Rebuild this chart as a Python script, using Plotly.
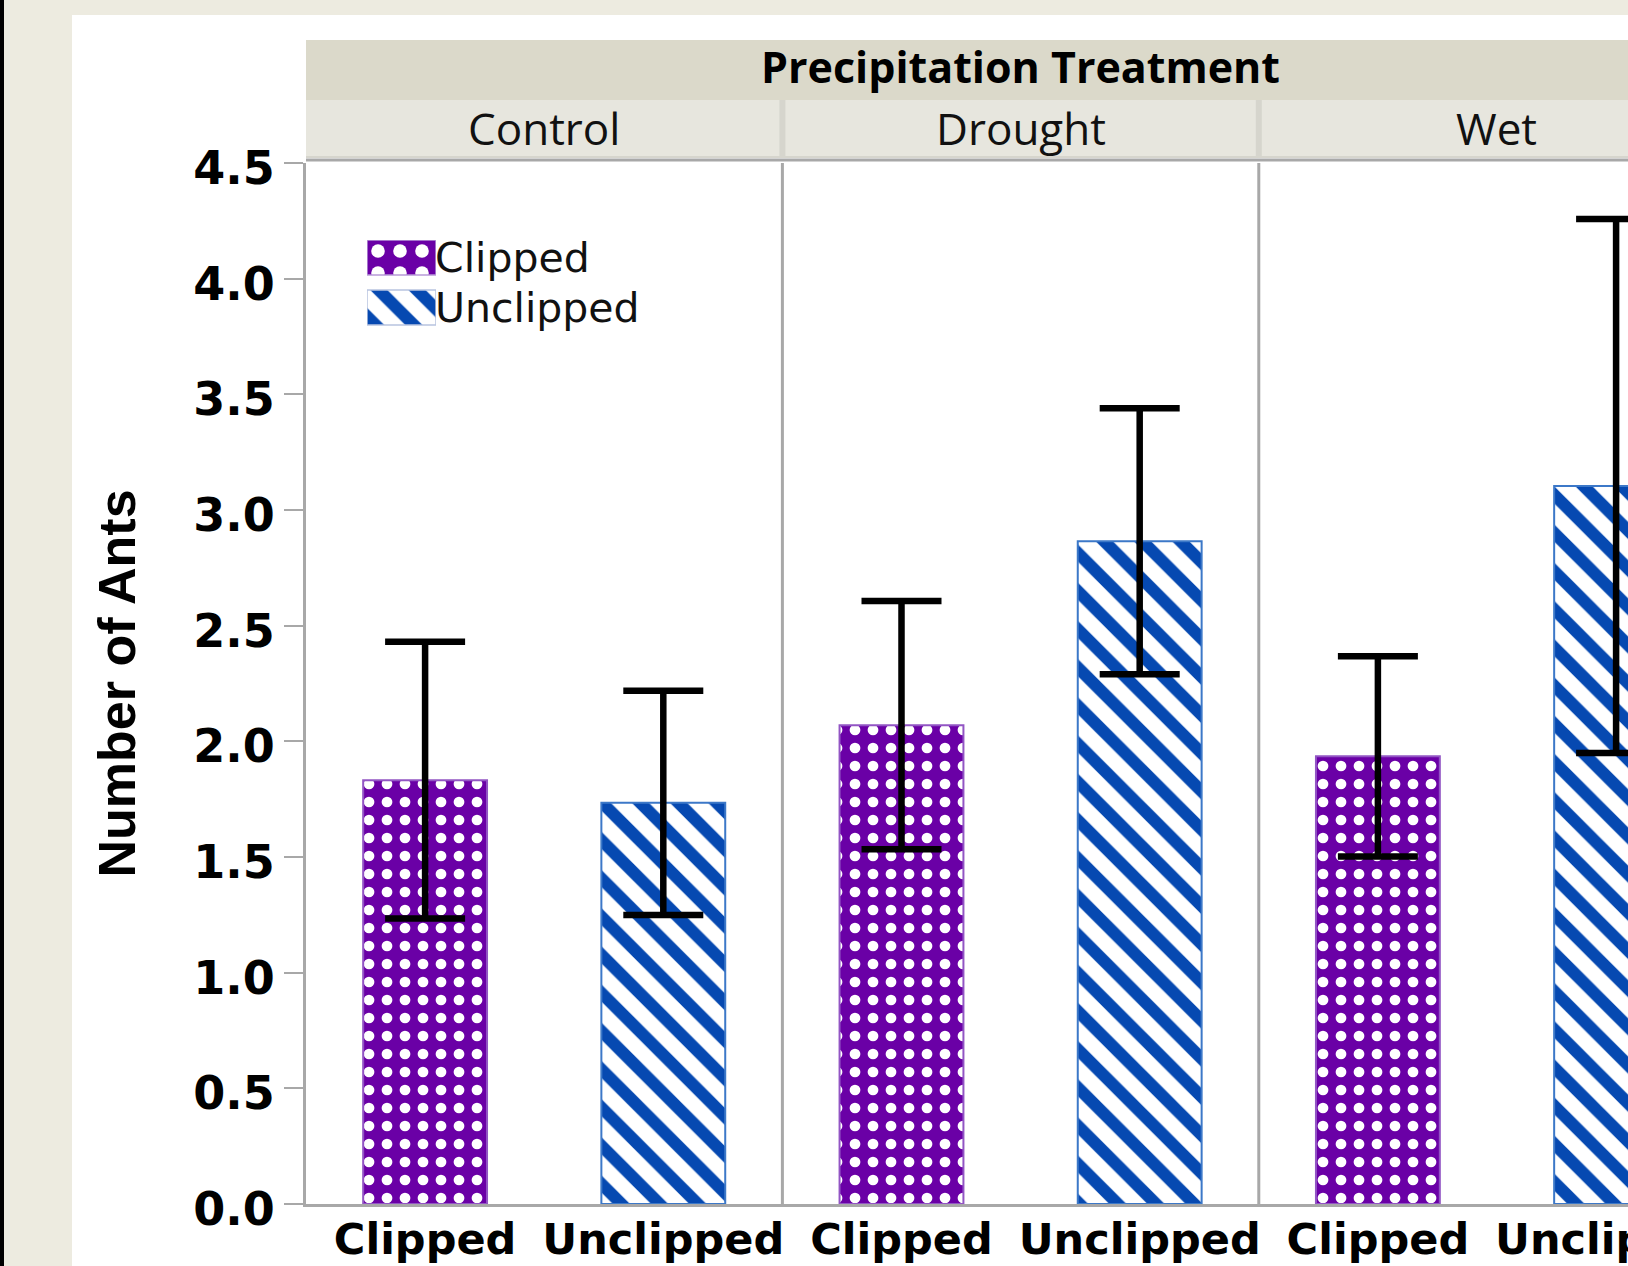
import plotly.graph_objects as go

# ---- data -------------------------------------------------------------
panels = ["Control", "Drought", "Wet"]
groups = ["Clipped", "Unclipped"]
clipped_mean = [1.832, 2.070, 1.935]
clipped_err = [0.598, 0.537, 0.433]
unclipped_mean = [1.734, 2.865, 3.104]
unclipped_err = [0.485, 0.575, 1.154]

header_title = "Precipitation Treatment"
y_title = "Number of Ants"

# ---- page geometry ----------------------------------------------------
W, H = 1628, 1266
ML, MR, MT, MB = 306, 0, 163, 62
PW, PH = W - ML - MR, H - MT - MB
XMIN, XMAX = -0.5, 5.05
PPU = PW / (XMAX - XMIN)          # pixels per category unit


def px(xp):
    return (xp - ML) / PW


def py(yp):
    return (H - MB - yp) / PH


PURPLE = "#6A00A6"
BLUE = "#0649B1"
GRID_GRAY = "#A8A8A8"

clipped_x = [2 * i for i in range(len(panels))]
unclipped_x = [2 * i + 1 for i in range(len(panels))]
tick_vals = sorted(clipped_x + unclipped_x)
tick_text = groups * len(panels)

err_style = dict(type="data", color="black", thickness=6.5, width=40)

dots = dict(shape=".", bgcolor=PURPLE, fgcolor="white", size=18,
            solidity=0.28, fillmode="replace")
stripes = dict(shape="\\", bgcolor="white", fgcolor=BLUE, size=27,
               solidity=0.45, fillmode="replace")

fig = go.Figure()
fig.add_trace(go.Bar(
    name="Clipped", x=clipped_x, y=clipped_mean, width=0.52,
    marker=dict(color=PURPLE, line=dict(color="#9255C4", width=2), pattern=dots),
    error_y=dict(array=clipped_err, **err_style),
    showlegend=False,
))
fig.add_trace(go.Bar(
    name="Unclipped", x=unclipped_x, y=unclipped_mean, width=0.52,
    marker=dict(color="white", line=dict(color="#3C78C8", width=2), pattern=stripes),
    error_y=dict(array=unclipped_err, **err_style),
    showlegend=False,
))

# legend key swatches on a small inset axis
fig.add_trace(go.Bar(
    x=[1], y=[1], orientation="h", width=0.7, xaxis="x2", yaxis="y2",
    marker=dict(color=PURPLE, line=dict(color="#B89AD8", width=1.5),
                pattern=dict(dots, size=22, solidity=0.3)),
    showlegend=False, hoverinfo="skip",
))
fig.add_trace(go.Bar(
    x=[1], y=[0], orientation="h", width=0.7, xaxis="x2", yaxis="y2",
    marker=dict(color="white", line=dict(color="#B8C4E0", width=1.5),
                pattern=stripes),
    showlegend=False, hoverinfo="skip",
))

shapes = [
    # dark window edge and beige surround, white chart panel
    dict(type="rect", xref="paper", yref="paper", x0=px(-5), x1=px(4),
         y0=py(H + 10), y1=py(-10), fillcolor="black", line_width=0, layer="below"),
    dict(type="rect", xref="paper", yref="paper", x0=px(72), x1=px(W + 10),
         y0=py(H + 10), y1=py(15), fillcolor="white", line_width=0, layer="below"),
    # header bands
    dict(type="rect", xref="paper", yref="paper", x0=px(306), x1=px(W + 10),
         y0=py(100), y1=py(40), fillcolor="#DBD9CA", line_width=0, layer="below"),
    dict(type="rect", xref="paper", yref="paper", x0=px(306), x1=px(W + 10),
         y0=py(158), y1=py(100), fillcolor="#D6D5CD", line_width=0, layer="below"),
]
gap = 3 / PPU
for i in range(len(panels)):
    shapes.append(dict(type="rect", xref="x", yref="paper",
                       x0=2 * i - 0.5 + (gap if i else 0.0), x1=2 * i + 1.5 - gap,
                       y0=py(156), y1=py(100), fillcolor="#E7E6DE",
                       line_width=0, layer="below"))
# top frame line and panel dividers
shapes.append(dict(type="line", xref="paper", yref="paper", x0=0, x1=1,
                   y0=py(160), y1=py(160), line=dict(color=GRID_GRAY, width=3)))
for xd in (1.5, 3.5):
    shapes.append(dict(type="line", xref="x", yref="paper", x0=xd, x1=xd,
                       y0=0, y1=1, line=dict(color=GRID_GRAY, width=3), layer="below"))

annotations = [
    dict(text=header_title, xref="x", yref="paper", x=2.5, y=py(67),
         showarrow=False, xanchor="center", yanchor="middle",
         font=dict(family="Open Sans", size=43, weight="bold", color="black")),
    dict(text=y_title, xref="paper", yref="paper", x=px(116), y=0.5,
         textangle=-90, showarrow=False, xanchor="center", yanchor="middle",
         font=dict(family="Liberation Sans", size=52, weight="bold", color="black")),
]
# legend labels, one beside each key swatch
for yv, name in zip([1, 0], groups):
    annotations.append(dict(text=name, xref="x2", yref="y2", x=1, y=yv,
                            showarrow=False, xanchor="left", yanchor="middle",
                            xshift=-1, borderpad=0, borderwidth=0,
                            font=dict(family="DejaVu Sans", size=41,
                                      color="#111111")))
for i, name in enumerate(panels):
    annotations.append(dict(text=name, xref="x", yref="paper", x=2 * i + 0.5,
                            y=py(128), showarrow=False, xanchor="center",
                            yanchor="middle",
                            font=dict(family="Open Sans", size=44, color="#111111")))

fig.update_layout(
    width=W, height=H,
    margin=dict(l=ML, r=MR, t=MT, b=MB, pad=0, autoexpand=False),
    paper_bgcolor="#EDEBE0",
    plot_bgcolor="white",
    barmode="overlay",
    showlegend=False,
    shapes=shapes,
    annotations=annotations,
    xaxis=dict(range=[XMIN, XMAX], tickvals=tick_vals, ticktext=tick_text,
               showgrid=False, zeroline=False, showline=True,
               linecolor=GRID_GRAY, linewidth=3, ticks="",
               automargin=False,
               ticklabeloverflow="allow", ticklabelstandoff=-5,
               tickfont=dict(family="DejaVu Sans", size=43, weight="bold",
                             color="black"),
               fixedrange=True),
    yaxis=dict(range=[0, 4.5], dtick=0.5, tickformat=".1f",
               showgrid=False, zeroline=False, showline=True,
               linecolor=GRID_GRAY, linewidth=3, automargin=False,
               ticks="outside", ticklen=19, tickwidth=2, tickcolor=GRID_GRAY,
               ticklabelshift=5,
               tickfont=dict(family="DejaVu Sans", size=46, weight="bold",
                             color="black"),
               fixedrange=True),
    xaxis2=dict(domain=[px(367), px(436)], range=[0, 1], visible=False,
                anchor="y2", fixedrange=True),
    yaxis2=dict(domain=[py(326), py(240)], range=[-0.37, 1.35], visible=False,
                anchor="x2", fixedrange=True),
)

fig.write_html("out.html", config={"displayModeBar": False})
